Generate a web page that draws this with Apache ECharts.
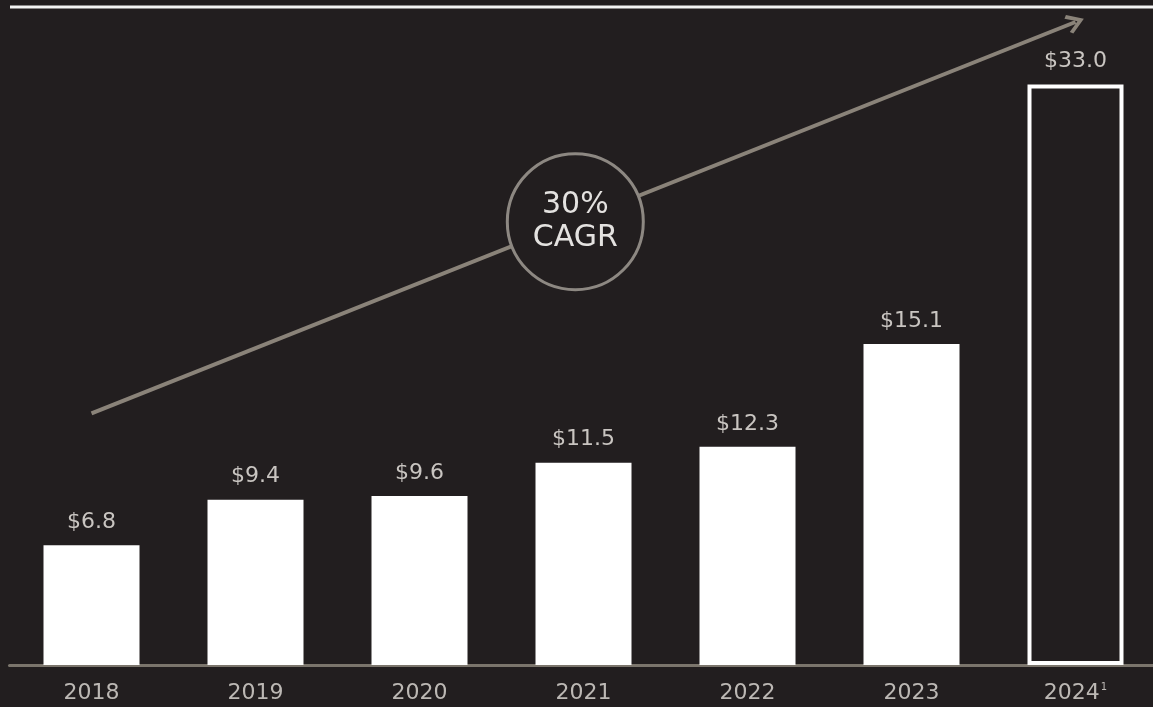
<!DOCTYPE html>
<html>
<head>
<meta charset="utf-8">
<script src="https://cdn.jsdelivr.net/npm/echarts@6/dist/echarts.min.js"></script>
<style>
html,body{margin:0;padding:0;background:#221e1f;overflow:hidden;width:1153px;height:707px;}
#chart{width:1160px;height:707px;}
</style>
</head>
<body>
<div id="chart"></div>
<script>
// Data
const categories = ['2018', '2019', '2020', '2021', '2022', '2023', '2024'];
const valueLabels = ['$6.8', '$9.4', '$9.6', '$11.5', '$12.3', '$15.1', '$33.0'];
// bar heights as drawn in the reference (the 2023 bar is drawn taller than its label)
const barHeights = [6.8, 9.4, 9.6, 11.5, 12.4, 18.25, 33.0];
const projectedIndex = 6; // 2024 drawn as outline
const cagrText = '30%\nCAGR';
const arrowStart = [0, 14.3];
const arrowEnd = [6, 36.55];
const circleAt = [2.95, 25.2];

const BG = '#221e1f';
const chart = echarts.init(document.getElementById('chart'));
const chevron = 'path://M5,0 L10,8 L8.6,9.4 L5,3.6 L1.4,9.4 L0,8 Z';

chart.setOption({
  backgroundColor: BG,
  animation: false,
  grid: { left: 9.5, right: 2.5, top: 0, bottom: 42, containLabel: false },
  xAxis: [
    {
      type: 'category',
      data: categories,
      axisLine: { show: true, lineStyle: { color: '#7b756c', width: 3 } },
      axisTick: { show: false },
      axisLabel: {
        interval: 0,
        color: '#bcb8b4', fontSize: 22, fontFamily: 'DejaVu Sans', margin: 17,
        formatter: function (v, i) { return i === projectedIndex ? v + '{sup|1}' : v; },
        rich: { sup: { fontSize: 10, color: '#bcb8b4', verticalAlign: 'top', padding: [0, 0, 10, 1] } }
      }
    },
    { type: 'value', min: -0.5, max: 6.5, show: false }
  ],
  yAxis: { type: 'value', min: 0, max: 37.8, show: false },
  series: [
    {
      type: 'bar',
      xAxisIndex: 0,
      barWidth: 96,
      z: 3,
      data: barHeights.map(function (v, i) {
        return i === projectedIndex
          ? { value: v, itemStyle: { color: BG, borderColor: '#ffffff', borderWidth: 4 } }
          : { value: v, itemStyle: { color: '#ffffff' } };
      }),
      label: {
        show: true, position: 'top', distance: 12,
        color: '#c9c5c1', fontSize: 22, fontFamily: 'DejaVu Sans',
        formatter: function (p) { return valueLabels[p.dataIndex]; }
      }
    },
    {
      type: 'line',
      xAxisIndex: 1,
      z: 4,
      symbol: 'none',
      lineStyle: { width: 0, opacity: 0 },
      data: [arrowStart, arrowEnd],
      silent: true,
      markLine: {
        silent: true,
        symbol: ['none', chevron],
        symbolSize: [20, 18],
        label: { show: false },
        lineStyle: { color: '#8a8379', width: 4, type: 'solid' },
        data: [[{ coord: arrowStart }, { coord: arrowEnd }]]
      }
    },
    {
      type: 'scatter',
      xAxisIndex: 1,
      z: 6,
      symbol: 'circle',
      symbolSize: 136,
      itemStyle: { color: BG, borderColor: '#8d8882', borderWidth: 3, opacity: 1 },
      label: {
        show: true, position: 'inside', color: '#e4e2e0', fontSize: 30,
        fontFamily: 'DejaVu Sans', lineHeight: 33,
        formatter: function () { return cagrText; }
      },
      data: [circleAt]
    }
  ],
  graphic: [
    { type: 'line', shape: { x1: 10, y1: 7, x2: 1160, y2: 7 }, style: { stroke: '#f4f4f4', lineWidth: 3 }, z: 10 }
  ]
});
</script>
</body>
</html>
